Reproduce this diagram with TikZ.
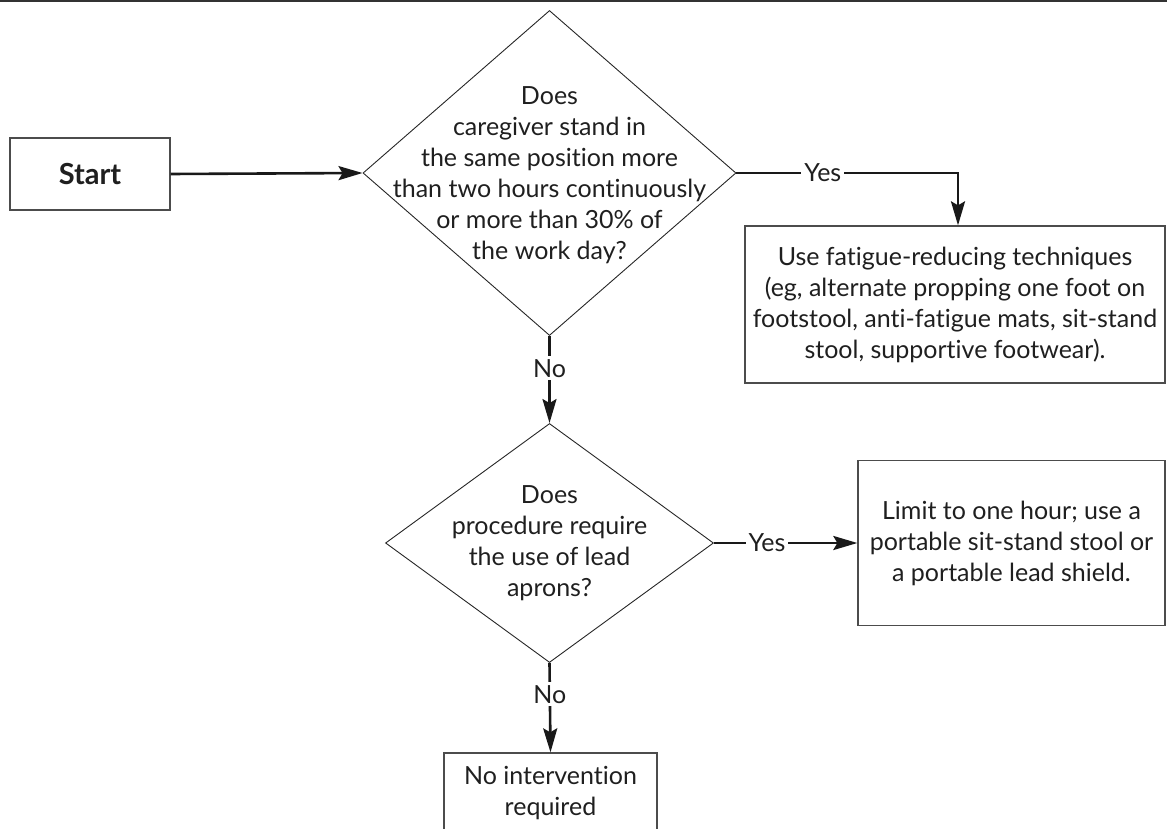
\documentclass[tikz,border=0pt]{standalone}
\usepackage{fontspec}
\setmainfont[Ligatures={NoCommon,NoRare}]{Lato}
\usetikzlibrary{shapes.geometric,arrows.meta}
\begin{document}
\begin{tikzpicture}[x=1pt,y=-1pt,
  boxst/.style={draw=black!70, line width=1.3pt, rectangle, inner sep=0pt, align=center, text=black!88, font=\fontsize{25}{31}\selectfont},
  dia/.style={draw=black!85, line width=0.9pt, diamond, inner sep=0pt},
  txt/.style={align=center, text=black!88, font=\fontsize{25}{31}\selectfont, inner sep=0pt},
  conn/.style={line width=2.6pt, black!90},
  arr/.style={conn, -{Stealth[length=24pt,width=14pt,inset=4pt]}},
  lbl/.style={fill=white, inner xsep=3pt, inner ysep=3pt, text=black!88, font=\fontsize{25}{28}\selectfont}]
\useasboundingbox (0,0) rectangle (1167,829);
\clip (0,0) rectangle (1167,829);
\draw[black!80, line width=3.4pt] (0,0) -- (1167,0);

\node[boxst, minimum width=160pt, minimum height=72pt, font=\fontsize{29}{31}\selectfont\bfseries] (start) at (90,174) {Start};

\node[dia, minimum width=373pt, minimum height=325pt] (d1) at (549.5,173) {};
\node[txt] (d1t) at (549.5,175) {Does\\caregiver stand in\\the same position more\\than two hours continuously\\or more than 30\% of\\the work day?};

\node[boxst, minimum width=420pt, minimum height=157pt] (b1) at (955,304.5) {Use fatigue-reducing techniques\\(eg, alternate propping one foot on\\footstool, anti-fatigue mats, sit-stand\\stool, supportive footwear).};

\node[dia, minimum width=328pt, minimum height=239pt] (d2) at (549.5,543) {};
\node[txt] (d2t) at (549.5,543) {Does\\procedure require\\the use of lead\\aprons?};

\node[boxst, minimum width=307pt, minimum height=165pt] (b2) at (1011.5,543) {Limit to one hour; use a\\portable sit-stand stool or\\a portable lead shield.};

\node[boxst, minimum width=213pt, minimum height=80pt] (b3) at (550.5,793) {No intervention\\required};

\coordinate (c1) at (958,173);
\draw[arr] (start.east) -- (d1.west);
\draw[arr] (d1.east) -- node[lbl, pos=0.39] {Yes} (c1) -- (c1 |- b1.north);
\draw[arr] (d1.south) -- node[lbl, pos=0.37] {No} (d2.north);
\draw[arr] (d2.east) -- node[lbl, pos=0.37] {Yes} (b2.west);
\draw[arr] (d2.south) -- node[lbl, pos=0.35] {No} (b3.north);
\end{tikzpicture}
\end{document}
